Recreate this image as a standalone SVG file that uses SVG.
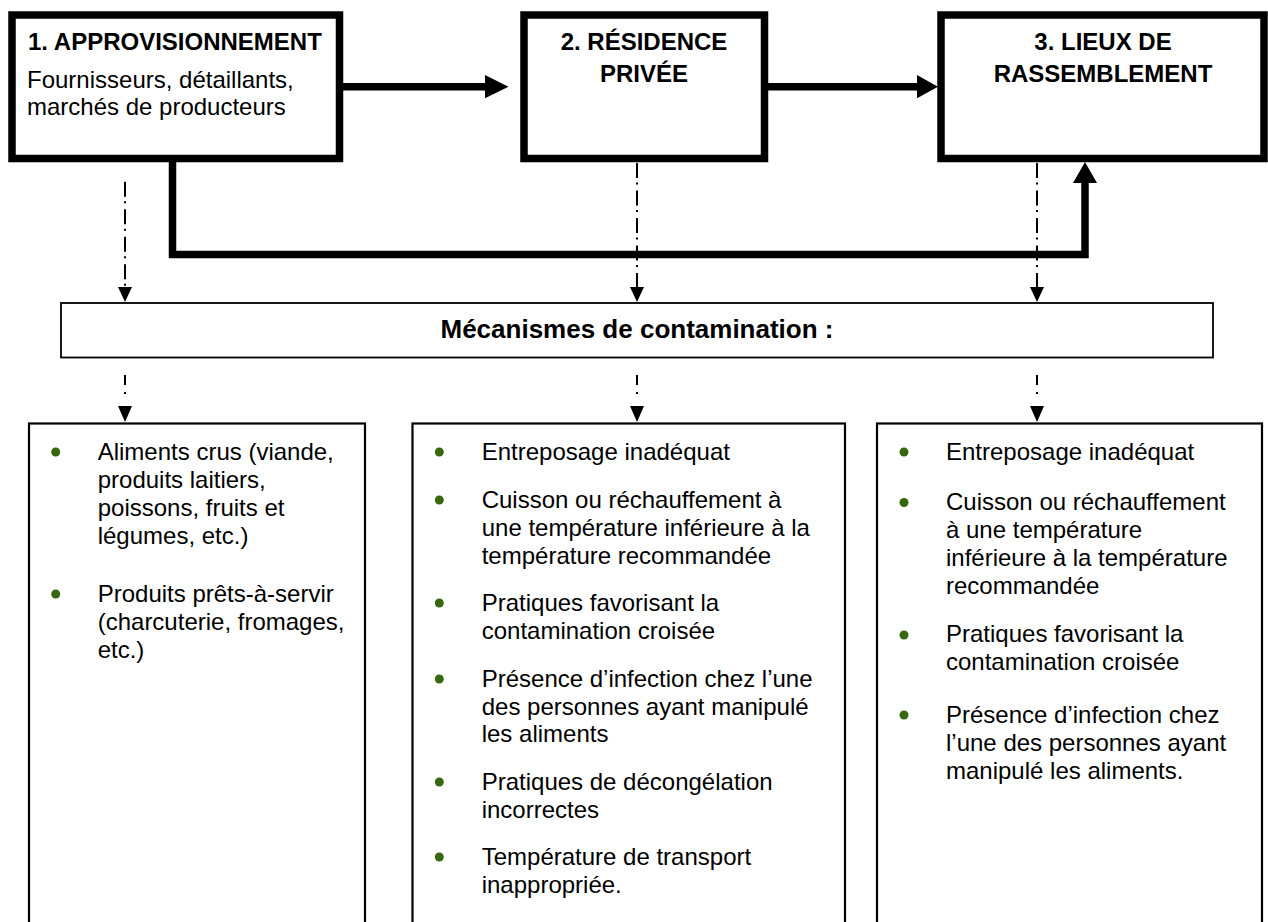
<svg xmlns="http://www.w3.org/2000/svg" width="1268" height="922" viewBox="0 0 1268 922">
<defs>
<style>
text{font-family:"Liberation Sans",Arial,Helvetica,sans-serif;fill:#000;}
.t{font-size:24px;}
.b{font-size:24px;font-weight:bold;}
.m{font-size:26px;font-weight:bold;}
.big{fill:#fff;stroke:#000;stroke-width:7.5;}
.thin{fill:#fff;stroke:#000;stroke-width:2.2;}
.thick{fill:none;stroke:#000;stroke-width:7.5;stroke-linejoin:miter;}
.dash{fill:none;stroke:#000;stroke-width:2;stroke-dasharray:15 4.5 2 6;}
.dash2{fill:none;stroke:#000;stroke-width:2;stroke-dasharray:10 7 2 100;}
.bul{fill:#38670f;}
</style>
</defs>
<rect width="1268" height="922" fill="#fff"/>
<g id="connectors">
<line class="thick" x1="339" y1="86.7" x2="487" y2="86.7"/>
<polygon points="485,75 508.5,86.7 485,98.3"/>
<line class="thick" x1="764" y1="86.7" x2="919" y2="86.7"/>
<polygon points="917,75 938,86.7 917,98.3"/>
<path class="thick" d="M172.5,162 V254.5 H1085 V181"/>
<polygon points="1073,183 1085,162 1097,183"/>
<line class="dash" x1="125" y1="181.7" x2="125" y2="288"/>
<polygon points="118,287 125,302 132,287"/>
<line class="dash" x1="637" y1="163" x2="637" y2="288"/>
<polygon points="630,287 637,302 644,287"/>
<line class="dash" x1="1037" y1="163" x2="1037" y2="288"/>
<polygon points="1030,287 1037,302 1044,287"/>
<line class="dash2" x1="125" y1="375" x2="125" y2="407"/>
<polygon points="118,406 125,422 132,406"/>
<line class="dash2" x1="637" y1="375" x2="637" y2="407"/>
<polygon points="630,406 637,422 644,406"/>
<line class="dash2" x1="1037" y1="375" x2="1037" y2="407"/>
<polygon points="1030,406 1037,422 1044,406"/>
</g>
<g id="node-approvisionnement">
<rect class="big" x="12" y="15" width="327.5" height="143.5"/>
<text class="b" x="28" y="50">1. APPROVISIONNEMENT</text>
<text class="t" x="27" y="88">Fournisseurs, détaillants,</text>
<text class="t" x="27" y="115">marchés de producteurs</text>
</g>
<g id="node-residence">
<rect class="big" x="524" y="15" width="240.5" height="143.5"/>
<text class="b" x="644" y="50" text-anchor="middle">2. RÉSIDENCE</text>
<text class="b" x="644" y="82" text-anchor="middle">PRIVÉE</text>
</g>
<g id="node-lieux">
<rect class="big" x="941" y="15" width="323" height="143.5"/>
<text class="b" x="1103" y="50" text-anchor="middle">3. LIEUX DE</text>
<text class="b" x="1103" y="82" text-anchor="middle">RASSEMBLEMENT</text>
</g>
<g id="node-mecanismes">
<rect x="61" y="303" width="1152" height="54.5" fill="#fff" stroke="#000" stroke-width="1.8"/>
<text class="m" x="637" y="338" text-anchor="middle">Mécanismes de contamination :</text>
</g>
<g id="node-list-1">
<rect class="thin" x="29" y="423.5" width="336" height="520"/>
<circle class="bul" cx="55.7" cy="452" r="4.5"/>
<text class="t" x="97.7" y="460">Aliments crus (viande,</text>
<text class="t" x="97.7" y="488">produits laitiers,</text>
<text class="t" x="97.7" y="516">poissons, fruits et</text>
<text class="t" x="97.7" y="544">légumes, etc.)</text>
<circle class="bul" cx="55.7" cy="594" r="4.5"/>
<text class="t" x="97.7" y="602">Produits prêts-à-servir</text>
<text class="t" x="97.7" y="630">(charcuterie, fromages,</text>
<text class="t" x="97.7" y="658">etc.)</text>
</g>
<g id="node-list-2">
<rect class="thin" x="412.5" y="423.5" width="432.5" height="520"/>
<circle class="bul" cx="439.3" cy="452" r="4.5"/>
<text class="t" x="481.7" y="460">Entreposage inadéquat</text>
<circle class="bul" cx="439.3" cy="500" r="4.5"/>
<text class="t" x="481.7" y="508">Cuisson ou réchauffement à</text>
<text class="t" x="481.7" y="536">une température inférieure à la</text>
<text class="t" x="481.7" y="564">température recommandée</text>
<circle class="bul" cx="439.3" cy="603" r="4.5"/>
<text class="t" x="481.7" y="611">Pratiques favorisant la</text>
<text class="t" x="481.7" y="639">contamination croisée</text>
<circle class="bul" cx="439.3" cy="679" r="4.5"/>
<text class="t" x="481.7" y="687">Présence d’infection chez l’une</text>
<text class="t" x="481.7" y="715">des personnes ayant manipulé</text>
<text class="t" x="481.7" y="742">les aliments</text>
<circle class="bul" cx="439.3" cy="782" r="4.5"/>
<text class="t" x="481.7" y="790">Pratiques de décongélation</text>
<text class="t" x="481.7" y="818">incorrectes</text>
<circle class="bul" cx="439.3" cy="857" r="4.5"/>
<text class="t" x="481.7" y="865">Température de transport</text>
<text class="t" x="481.7" y="893">inappropriée.</text>
</g>
<g id="node-list-3">
<rect class="thin" x="877" y="423.5" width="385" height="520"/>
<circle class="bul" cx="904" cy="452" r="4.5"/>
<text class="t" x="946" y="460">Entreposage inadéquat</text>
<circle class="bul" cx="904" cy="502.5" r="4.5"/>
<text class="t" x="946" y="510">Cuisson ou réchauffement</text>
<text class="t" x="946" y="538">à une température</text>
<text class="t" x="946" y="566">inférieure à la température</text>
<text class="t" x="946" y="594">recommandée</text>
<circle class="bul" cx="904" cy="635" r="4.5"/>
<text class="t" x="946" y="642">Pratiques favorisant la</text>
<text class="t" x="946" y="670">contamination croisée</text>
<circle class="bul" cx="904" cy="715" r="4.5"/>
<text class="t" x="946" y="723">Présence d’infection chez</text>
<text class="t" x="946" y="751">l’une des personnes ayant</text>
<text class="t" x="946" y="779">manipulé les aliments.</text>
</g>
</svg>
